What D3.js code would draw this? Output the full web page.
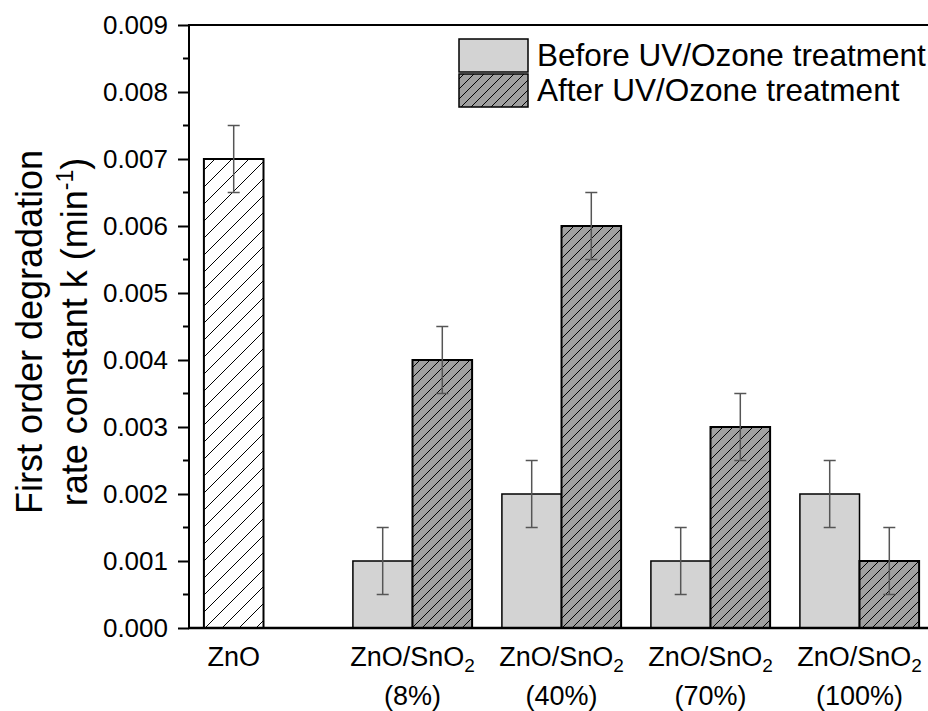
<!DOCTYPE html>
<html>
<head>
<meta charset="utf-8">
<script src="https://cdn.jsdelivr.net/npm/d3@7"></script>
<style>
  body { margin: 0; background: #fff; }
  text { font-family: Arial, "Liberation Sans", sans-serif; fill: #000; }
</style>
</head>
<body>
<svg id="chart" width="928" height="711"></svg>
<script>
const groups = ['ZnO', '8%', '40%', '70%', '100%'];
const znoValue = 0.007;
const znoErr = 0.0005;
const beforeVals = [null, 0.001, 0.002, 0.001, 0.002];
const afterVals = [null, 0.004, 0.006, 0.003, 0.001];
const beforeErr = [null, 0.0005, 0.0005, 0.0005, 0.0005];
const afterErr = [null, 0.0005, 0.0005, 0.0005, 0.0005];
const yTicks = [0, 0.001, 0.002, 0.003, 0.004, 0.005, 0.006, 0.007, 0.008, 0.009];
const legendLabels = ['Before UV/Ozone treatment', 'After UV/Ozone treatment'];

const svg = d3.select('#chart');
const margin = {top: 25, left: 189, bottom: 83};
const height = +svg.attr('height');
const innerH = height - margin.top - margin.bottom;

const x = d3.scaleLinear().domain([-0.5, 4.5]).range([margin.left, margin.left + 149 * 5]);
const y = d3.scaleLinear().domain([0, 0.009]).range([margin.top + innerH, margin.top]);
const barW = x(0.4) - x(0);

// hatch patterns
const defs = svg.append('defs');
const hatch = (id, s, bg) => {
  const p = defs.append('pattern').attr('id', id)
    .attr('patternUnits', 'userSpaceOnUse').attr('width', s).attr('height', s);
  p.append('rect').attr('width', s).attr('height', s).attr('fill', bg);
  p.append('path')
    .attr('d', `M-1,1 l2,-2 M0,${s} l${s},${-s} M${s - 1},${s + 1} l2,-2`)
    .attr('stroke', '#000').attr('stroke-width', 1);
};
hatch('hatchZnO', 17, '#fff');
hatch('hatchAfter', 10, '#a0a0a0');

const g = svg.append('g');

// ZnO bar
g.append('rect')
  .attr('x', x(0) - barW).attr('y', y(znoValue))
  .attr('width', barW).attr('height', y(0) - y(znoValue))
  .attr('fill', 'url(#hatchZnO)').attr('stroke', '#000').attr('stroke-width', 2);

const idx = d3.range(1, groups.length);
g.selectAll('.before').data(idx).enter().append('rect')
  .attr('x', i => x(i) - barW).attr('y', i => y(beforeVals[i]))
  .attr('width', barW).attr('height', i => y(0) - y(beforeVals[i]))
  .attr('fill', '#d3d3d3').attr('stroke', '#000').attr('stroke-width', 1.5);

g.selectAll('.after').data(idx).enter().append('rect')
  .attr('x', i => x(i)).attr('y', i => y(afterVals[i]))
  .attr('width', barW).attr('height', i => y(0) - y(afterVals[i]))
  .attr('fill', 'url(#hatchAfter)').attr('stroke', '#000').attr('stroke-width', 2);

// error bars
const errs = [{cx: x(0) - barW / 2, v: znoValue, e: znoErr}];
idx.forEach(i => {
  errs.push({cx: x(i) - barW / 2, v: beforeVals[i], e: beforeErr[i]});
  errs.push({cx: x(i) + barW / 2, v: afterVals[i], e: afterErr[i]});
});
const eg = g.selectAll('.err').data(errs).enter().append('g')
  .attr('stroke', '#555').attr('stroke-width', 1.5);
eg.append('line').attr('x1', d => d.cx).attr('x2', d => d.cx)
  .attr('y1', d => y(d.v - d.e)).attr('y2', d => y(d.v + d.e));
eg.append('line').attr('x1', d => d.cx - 6).attr('x2', d => d.cx + 6)
  .attr('y1', d => y(d.v + d.e)).attr('y2', d => y(d.v + d.e));
eg.append('line').attr('x1', d => d.cx - 6).attr('x2', d => d.cx + 6)
  .attr('y1', d => y(d.v - d.e)).attr('y2', d => y(d.v - d.e));

// y axis
const yAxis = d3.axisLeft(y).tickValues(yTicks).tickFormat(d3.format('.3f'))
  .tickSize(11).tickPadding(10);
const yG = svg.append('g').attr('transform', `translate(${margin.left},0)`).call(yAxis);
yG.select('.domain').remove();
yG.selectAll('.tick line').attr('stroke', '#000').attr('stroke-width', 2);
yG.selectAll('.tick text').style('font-size', '26px').style('font-family', 'Arial, "Liberation Sans", sans-serif');
const minor = d3.range(0.0005, 0.009, 0.001);
svg.append('g').selectAll('line').data(minor).enter().append('line')
  .attr('x1', margin.left - 6).attr('x2', margin.left)
  .attr('y1', d => y(d)).attr('y2', d => y(d))
  .attr('stroke', '#000').attr('stroke-width', 2);

// frame
svg.append('line').attr('x1', margin.left).attr('x2', margin.left)
  .attr('y1', y(0.009) - 1).attr('y2', y(0) + 1).attr('stroke', '#000').attr('stroke-width', 2);
svg.append('line').attr('x1', margin.left).attr('x2', 928)
  .attr('y1', y(0.009)).attr('y2', y(0.009)).attr('stroke', '#000').attr('stroke-width', 2);
svg.append('line').attr('x1', margin.left - 1).attr('x2', 928)
  .attr('y1', y(0)).attr('y2', y(0)).attr('stroke', '#000').attr('stroke-width', 2.5);

// x labels
svg.append('text').attr('x', x(0) - barW / 2).attr('y', y(0) + 38)
  .attr('text-anchor', 'middle').style('font-size', '27px').text(groups[0]);
idx.forEach(i => {
  const t = svg.append('text').attr('x', x(i)).attr('y', y(0) + 38)
    .attr('text-anchor', 'middle').style('font-size', '27px');
  t.append('tspan').text('ZnO/SnO');
  t.append('tspan').attr('dy', 6).style('font-size', '19px').text('2');
  svg.append('text').attr('x', x(i)).attr('y', y(0) + 77)
    .attr('text-anchor', 'middle').style('font-size', '27px').text(`(${groups[i]})`);
});

// y title
const yt = svg.append('text').attr('transform', 'translate(42,332) rotate(-90)')
  .attr('text-anchor', 'middle').style('font-size', '36px');
yt.append('tspan').attr('x', 0).attr('y', 0).text('First order degradation');
const l2 = yt.append('tspan').attr('x', 0).attr('y', 45);
l2.append('tspan').text('rate constant k (min');
l2.append('tspan').attr('dy', -14).style('font-size', '23px').text('-1');
l2.append('tspan').attr('dy', 14).text(')');

// legend
const lg = svg.append('g').attr('transform', 'translate(459,39)');
const fills = ['#d3d3d3', 'url(#hatchAfter)'];
legendLabels.forEach((lab, i) => {
  lg.append('rect').attr('x', 0).attr('y', i * 35).attr('width', 69).attr('height', 33)
    .attr('fill', fills[i]).attr('stroke', '#000').attr('stroke-width', 1.5);
  lg.append('text').attr('x', 78).attr('y', i * 35 + 27).style('font-size', '31.5px').text(lab);
});
</script>
</body>
</html>
